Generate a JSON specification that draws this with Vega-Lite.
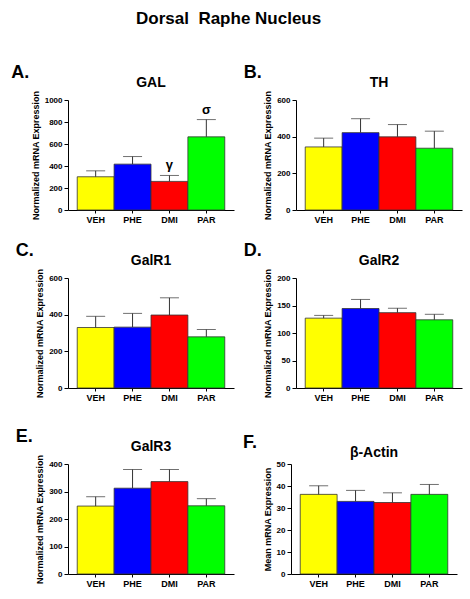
{
  "$schema": "https://vega.github.io/schema/vega-lite/v6.json",
  "background": "white",
  "padding": {"left": 11, "top": 10, "right": 5, "bottom": 5},
  "title": {"text": "Dorsal\u00a0 Raphe Nucleus", "fontSize": 17, "fontWeight": "bold", "font": "Liberation Sans", "anchor": "middle", "offset": 36, "dx": -8, "color": "black"},
  "config": {
    "font": "Liberation Sans",
    "view": {"stroke": null},
    "title": {"color": "black", "font": "Liberation Sans", "fontWeight": "bold"},
    "axis": {"grid": false, "domainColor": "black", "tickColor": "black", "labelColor": "black", "titleColor": "black", "labelFont": "Liberation Sans", "titleFont": "Liberation Sans", "labelFontWeight": "bold", "titleFontWeight": "bold", "labelFontSize": 8, "titleFontSize": 9, "tickSize": 4, "labelPadding": 2, "titlePadding": 4, "labelOverlap": false, "labelBound": false},
    "axisX": {"labelAngle": 0, "labelFontSize": 9, "tickSize": 3, "title": null},
    "concat": {"spacing": 9}
  },
  "datasets": {
    "d": [
      {"panel": "A", "group": "VEH", "mean": 302, "upper": 356, "ann": ""},
      {"panel": "A", "group": "PHE", "mean": 417, "upper": 486, "ann": ""},
      {"panel": "A", "group": "DMI", "mean": 260, "upper": 314, "ann": "γ"},
      {"panel": "A", "group": "PAR", "mean": 665, "upper": 822, "ann": "σ"},
      {"panel": "B", "group": "VEH", "mean": 344, "upper": 392, "ann": ""},
      {"panel": "B", "group": "PHE", "mean": 422, "upper": 498, "ann": ""},
      {"panel": "B", "group": "DMI", "mean": 399, "upper": 466, "ann": ""},
      {"panel": "B", "group": "PAR", "mean": 337, "upper": 430, "ann": ""},
      {"panel": "C", "group": "VEH", "mean": 330, "upper": 391, "ann": ""},
      {"panel": "C", "group": "PHE", "mean": 332, "upper": 407, "ann": ""},
      {"panel": "C", "group": "DMI", "mean": 398, "upper": 492, "ann": ""},
      {"panel": "C", "group": "PAR", "mean": 279, "upper": 319, "ann": ""},
      {"panel": "D", "group": "VEH", "mean": 127, "upper": 132, "ann": ""},
      {"panel": "D", "group": "PHE", "mean": 144.5, "upper": 161, "ann": ""},
      {"panel": "D", "group": "DMI", "mean": 137, "upper": 145, "ann": ""},
      {"panel": "D", "group": "PAR", "mean": 124, "upper": 134, "ann": ""},
      {"panel": "E", "group": "VEH", "mean": 247, "upper": 281, "ann": ""},
      {"panel": "E", "group": "PHE", "mean": 312, "upper": 380, "ann": ""},
      {"panel": "E", "group": "DMI", "mean": 336, "upper": 380, "ann": ""},
      {"panel": "E", "group": "PAR", "mean": 248, "upper": 274, "ann": ""},
      {"panel": "F", "group": "VEH", "mean": 36.2, "upper": 40.1, "ann": ""},
      {"panel": "F", "group": "PHE", "mean": 33.0, "upper": 38.0, "ann": ""},
      {"panel": "F", "group": "DMI", "mean": 32.5, "upper": 36.9, "ann": ""},
      {"panel": "F", "group": "PAR", "mean": 36.2, "upper": 40.7, "ann": ""}
    ]
  },
  "vconcat": [
    {
      "vconcat": [
        {
          "hconcat": [
            {
              "title": {"text": "A.", "anchor": "start", "fontSize": 18, "dx": -20, "dy": 6, "offset": 0},
              "vconcat": [{
                "title": {"text": "GAL", "fontSize": 14, "offset": 0},
                "width": 166, "height": 110,
                "data": {"name": "d"},
                "transform": [{"filter": "datum.panel === 'A'"}],
                "encoding": {"x": {"field": "group", "type": "nominal", "sort": ["VEH", "PHE", "DMI", "PAR"], "scale": {"paddingInner": 0, "paddingOuter": 0.25}}},
                "layer": [
                  {"mark": {"type": "bar", "stroke": "#333", "strokeWidth": 0.8}, "encoding": {"y": {"field": "mean", "type": "quantitative", "scale": {"domain": [0, 1000]}, "axis": {"values": [0, 200, 400, 600, 800, 1000], "format": "d", "labelOverlap": false, "title": "Normalized mRNA Expression"}}, "color": {"field": "group", "type": "nominal", "scale": {"domain": ["VEH", "PHE", "DMI", "PAR"], "range": ["#FFFF00", "#0000FF", "#FF0000", "#00FF00"]}, "legend": null}}},
                  {"mark": {"type": "rule", "color": "#333"}, "encoding": {"y": {"field": "mean", "type": "quantitative", "axis": {"values": [0, 200, 400, 600, 800, 1000], "format": "d", "labelOverlap": false, "title": "Normalized mRNA Expression"}}, "y2": {"field": "upper"}}},
                  {"mark": {"type": "tick", "color": "#333", "size": 19, "thickness": 1}, "encoding": {"y": {"field": "upper", "type": "quantitative", "axis": {"values": [0, 200, 400, 600, 800, 1000], "format": "d", "labelOverlap": false, "title": "Normalized mRNA Expression"}}}},
                  {"mark": {"type": "text", "baseline": "bottom", "dy": -3, "fontSize": 13, "fontWeight": "bold", "color": "black"}, "encoding": {"y": {"field": "upper", "type": "quantitative", "axis": {"values": [0, 200, 400, 600, 800, 1000], "format": "d", "labelOverlap": false, "title": "Normalized mRNA Expression"}}, "text": {"field": "ann"}}}
                ]
              }]
            },
            {
              "title": {"text": "B.", "anchor": "start", "fontSize": 18, "dx": -20, "dy": 6, "offset": 0},
              "vconcat": [{
                "title": {"text": "TH", "fontSize": 14, "offset": 0},
                "width": 166, "height": 110,
                "data": {"name": "d"},
                "transform": [{"filter": "datum.panel === 'B'"}],
                "encoding": {"x": {"field": "group", "type": "nominal", "sort": ["VEH", "PHE", "DMI", "PAR"], "scale": {"paddingInner": 0, "paddingOuter": 0.25}}},
                "layer": [
                  {"mark": {"type": "bar", "stroke": "#333", "strokeWidth": 0.8}, "encoding": {"y": {"field": "mean", "type": "quantitative", "scale": {"domain": [0, 600]}, "axis": {"values": [0, 200, 400, 600], "labelOverlap": false, "title": "Normalized mRNA Expression"}}, "color": {"field": "group", "type": "nominal", "scale": {"domain": ["VEH", "PHE", "DMI", "PAR"], "range": ["#FFFF00", "#0000FF", "#FF0000", "#00FF00"]}, "legend": null}}},
                  {"mark": {"type": "rule", "color": "#333"}, "encoding": {"y": {"field": "mean", "type": "quantitative", "axis": {"values": [0, 200, 400, 600], "labelOverlap": false, "title": "Normalized mRNA Expression"}}, "y2": {"field": "upper"}}},
                  {"mark": {"type": "tick", "color": "#333", "size": 19, "thickness": 1}, "encoding": {"y": {"field": "upper", "type": "quantitative", "axis": {"values": [0, 200, 400, 600], "labelOverlap": false, "title": "Normalized mRNA Expression"}}}}
                ]
              }]
            }
          ]
        },
        {
          "hconcat": [
            {
              "title": {"text": "C.", "anchor": "start", "fontSize": 18, "dx": -20, "dy": 6, "offset": 0},
              "vconcat": [{
                "title": {"text": "GalR1", "fontSize": 14, "offset": 0},
                "width": 166, "height": 110,
                "data": {"name": "d"},
                "transform": [{"filter": "datum.panel === 'C'"}],
                "encoding": {"x": {"field": "group", "type": "nominal", "sort": ["VEH", "PHE", "DMI", "PAR"], "scale": {"paddingInner": 0, "paddingOuter": 0.25}}},
                "layer": [
                  {"mark": {"type": "bar", "stroke": "#333", "strokeWidth": 0.8}, "encoding": {"y": {"field": "mean", "type": "quantitative", "scale": {"domain": [0, 600]}, "axis": {"values": [0, 200, 400, 600], "labelOverlap": false, "title": "Normalized mRNA Expression"}}, "color": {"field": "group", "type": "nominal", "scale": {"domain": ["VEH", "PHE", "DMI", "PAR"], "range": ["#FFFF00", "#0000FF", "#FF0000", "#00FF00"]}, "legend": null}}},
                  {"mark": {"type": "rule", "color": "#333"}, "encoding": {"y": {"field": "mean", "type": "quantitative", "axis": {"values": [0, 200, 400, 600], "labelOverlap": false, "title": "Normalized mRNA Expression"}}, "y2": {"field": "upper"}}},
                  {"mark": {"type": "tick", "color": "#333", "size": 19, "thickness": 1}, "encoding": {"y": {"field": "upper", "type": "quantitative", "axis": {"values": [0, 200, 400, 600], "labelOverlap": false, "title": "Normalized mRNA Expression"}}}}
                ]
              }]
            },
            {
              "title": {"text": "D.", "anchor": "start", "fontSize": 18, "dx": -20, "dy": 6, "offset": 0},
              "vconcat": [{
                "title": {"text": "GalR2", "fontSize": 14, "offset": 0},
                "width": 166, "height": 110,
                "data": {"name": "d"},
                "transform": [{"filter": "datum.panel === 'D'"}],
                "encoding": {"x": {"field": "group", "type": "nominal", "sort": ["VEH", "PHE", "DMI", "PAR"], "scale": {"paddingInner": 0, "paddingOuter": 0.25}}},
                "layer": [
                  {"mark": {"type": "bar", "stroke": "#333", "strokeWidth": 0.8}, "encoding": {"y": {"field": "mean", "type": "quantitative", "scale": {"domain": [0, 200]}, "axis": {"values": [0, 50, 100, 150, 200], "labelOverlap": false, "title": "Normalized mRNA Expression"}}, "color": {"field": "group", "type": "nominal", "scale": {"domain": ["VEH", "PHE", "DMI", "PAR"], "range": ["#FFFF00", "#0000FF", "#FF0000", "#00FF00"]}, "legend": null}}},
                  {"mark": {"type": "rule", "color": "#333"}, "encoding": {"y": {"field": "mean", "type": "quantitative", "axis": {"values": [0, 50, 100, 150, 200], "labelOverlap": false, "title": "Normalized mRNA Expression"}}, "y2": {"field": "upper"}}},
                  {"mark": {"type": "tick", "color": "#333", "size": 19, "thickness": 1}, "encoding": {"y": {"field": "upper", "type": "quantitative", "axis": {"values": [0, 50, 100, 150, 200], "labelOverlap": false, "title": "Normalized mRNA Expression"}}}}
                ]
              }]
            }
          ]
        }
      ],
      "spacing": 18
    },
    {
      "hconcat": [
        {
          "title": {"text": "E.", "anchor": "start", "fontSize": 18, "dx": -20, "dy": 6, "offset": 0},
          "vconcat": [{
            "title": {"text": "GalR3", "fontSize": 14, "offset": 0},
            "width": 166, "height": 110,
            "data": {"name": "d"},
            "transform": [{"filter": "datum.panel === 'E'"}],
            "encoding": {"x": {"field": "group", "type": "nominal", "sort": ["VEH", "PHE", "DMI", "PAR"], "scale": {"paddingInner": 0, "paddingOuter": 0.25}}},
            "layer": [
              {"mark": {"type": "bar", "stroke": "#333", "strokeWidth": 0.8}, "encoding": {"y": {"field": "mean", "type": "quantitative", "scale": {"domain": [0, 400]}, "axis": {"values": [0, 100, 200, 300, 400], "labelOverlap": false, "title": "Normalized mRNA Expression"}}, "color": {"field": "group", "type": "nominal", "scale": {"domain": ["VEH", "PHE", "DMI", "PAR"], "range": ["#FFFF00", "#0000FF", "#FF0000", "#00FF00"]}, "legend": null}}},
              {"mark": {"type": "rule", "color": "#333"}, "encoding": {"y": {"field": "mean", "type": "quantitative", "axis": {"values": [0, 100, 200, 300, 400], "labelOverlap": false, "title": "Normalized mRNA Expression"}}, "y2": {"field": "upper"}}},
              {"mark": {"type": "tick", "color": "#333", "size": 19, "thickness": 1}, "encoding": {"y": {"field": "upper", "type": "quantitative", "axis": {"values": [0, 100, 200, 300, 400], "labelOverlap": false, "title": "Normalized mRNA Expression"}}}}
            ]
          }]
        },
        {
          "title": {"text": "F.", "anchor": "start", "fontSize": 18, "dx": -20, "dy": 6, "offset": 0},
          "vconcat": [{
            "title": {"text": "β-Actin", "fontSize": 14, "offset": 0},
            "width": 166, "height": 110,
            "data": {"name": "d"},
            "transform": [{"filter": "datum.panel === 'F'"}],
            "encoding": {"x": {"field": "group", "type": "nominal", "sort": ["VEH", "PHE", "DMI", "PAR"], "scale": {"paddingInner": 0, "paddingOuter": 0.25}}},
            "layer": [
              {"mark": {"type": "bar", "stroke": "#333", "strokeWidth": 0.8}, "encoding": {"y": {"field": "mean", "type": "quantitative", "scale": {"domain": [0, 50]}, "axis": {"values": [0, 10, 20, 30, 40, 50], "labelOverlap": false, "title": "Mean mRNA Expression"}}, "color": {"field": "group", "type": "nominal", "scale": {"domain": ["VEH", "PHE", "DMI", "PAR"], "range": ["#FFFF00", "#0000FF", "#FF0000", "#00FF00"]}, "legend": null}}},
              {"mark": {"type": "rule", "color": "#333"}, "encoding": {"y": {"field": "mean", "type": "quantitative", "axis": {"values": [0, 10, 20, 30, 40, 50], "labelOverlap": false, "title": "Mean mRNA Expression"}}, "y2": {"field": "upper"}}},
              {"mark": {"type": "tick", "color": "#333", "size": 19, "thickness": 1}, "encoding": {"y": {"field": "upper", "type": "quantitative", "axis": {"values": [0, 10, 20, 30, 40, 50], "labelOverlap": false, "title": "Mean mRNA Expression"}}}}
            ]
          }]
        }
      ]
    }
  ],
  "spacing": 26
}
